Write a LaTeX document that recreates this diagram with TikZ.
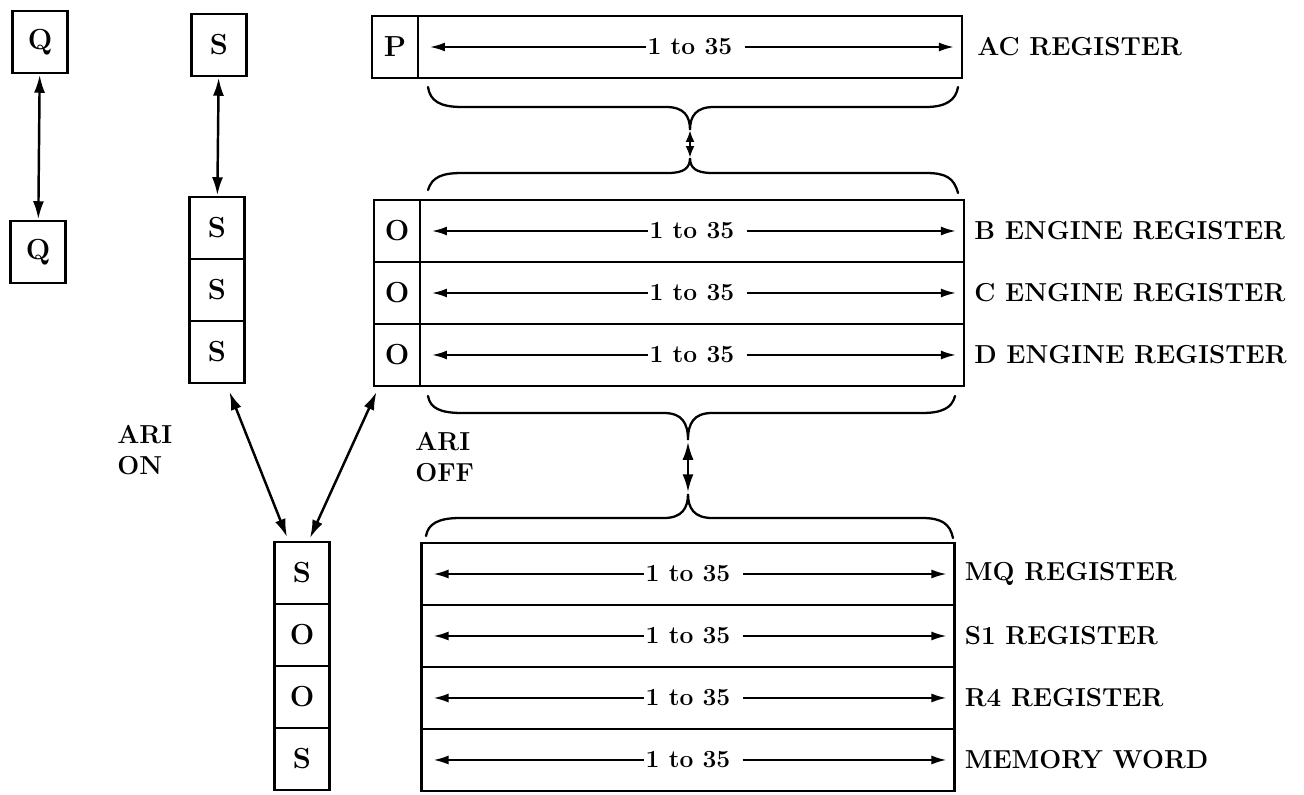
\documentclass[tikz,border=0pt]{standalone}
\usepackage{fontspec}
\usepackage{tikz}
\usetikzlibrary{arrows.meta,
positioning}

\newcommand\regfont{\fontsize{14.8}{17.6}\selectfont\bfseries}
\newcommand\bitfont{\fontsize{14}{16}\selectfont\bfseries}
\newcommand\cellfont{\fontsize{16.5}{18}\selectfont\bfseries}

\begin{document}
\begin{tikzpicture}[
    x=0.02cm, y=-0.02cm,
    >={Latex[length=3mm,width=1.8mm]},
    cell/.style={
        draw,
        line width=1.3pt,
        minimum width=1.1cm,
        minimum height=1.24cm,
        inner sep=0pt,
        outer sep=0pt,
        font=\cellfont
    },
    tag/.style={
        cell,
        minimum width=0.92cm
    },
    field/.style={
        cell,
        minimum width=10.88cm
    },
    lowfield/.style={
        cell,
        minimum width=10.66cm
    },
    span/.style={
        ->,
        line width=1.1pt
    },
    link/.style={
        <->,
        line width=1.4pt,
        >={Latex[length=3.6mm,width=2.2mm]}
    },
    brace/.style={
        line width=1.3pt,
        line cap=round
    },
    regname/.style={
        anchor=west,
        inner sep=0pt,
        font=\regfont
    },
    bits/.style={
        inner sep=0pt,
        font=\bitfont
    },
    note/.style={
        anchor=west,
        align=left,
        inner sep=0pt,
        font=\regfont
    }
]
\useasboundingbox (0,0) rectangle (1304,794);

%-------------------------------------------------
% Sign bits Q and S
%-------------------------------------------------

\node[cell] (Qtop) at (40,42) {Q};
\node[cell] (Qbot) at (38,252) {Q};
\draw[link,shorten <=1pt,shorten >=1pt] (Qtop) -- (Qbot);

\node[cell] (Stop) at (219,45) {S};
\node[cell] (Sa) at (217,228) {S};
\node[cell,below=0pt of Sa] (Sb) {S};
\node[cell,below=0pt of Sb] (Sc) {S};
\draw[link,shorten <=1pt,shorten >=1pt] (Stop) -- (Sa);

%-------------------------------------------------
% AC register
%-------------------------------------------------

\node[tag] (Pbit) at (395,47) {P};
\node[field,right=0pt of Pbit] (ACf) {};
\node[regname,right=3mm of ACf] (ACn) {AC REGISTER};

%-------------------------------------------------
% Engine registers
%-------------------------------------------------

\node[tag] (Bbit) at (397,231) {O};
\node[field,right=0pt of Bbit] (Bf) {};
\node[tag,below=0pt of Bbit] (Cbit) {O};
\node[field,right=0pt of Cbit] (Cf) {};
\node[tag,below=0pt of Cbit] (Dbit) {O};
\node[field,right=0pt of Dbit] (Df) {};

\node[regname,right=2mm of Bf] (Bn) {B ENGINE REGISTER};
\node[regname,right=2mm of Cf] (Cn) {C ENGINE REGISTER};
\node[regname,right=2mm of Df] (Dn) {D ENGINE REGISTER};

%-------------------------------------------------
% MQ, S1, R4 and memory word
%-------------------------------------------------

\node[lowfield] (MQf) at (688,574) {};
\node[lowfield,below=0pt of MQf] (S1f) {};
\node[lowfield,below=0pt of S1f] (R4f) {};
\node[lowfield,below=0pt of R4f] (MWf) {};

\node[regname,right=2mm of MQf] (MQn) {MQ REGISTER};
\node[regname,right=2mm of S1f] (S1n) {S1 REGISTER};
\node[regname,right=2mm of R4f] (R4n) {R4 REGISTER};
\node[regname,right=2mm of MWf] (MWn) {MEMORY WORD};

\node[cell] (Ta) at (302,573) {S};
\node[cell,below=0pt of Ta] (Tb) {O};
\node[cell,below=0pt of Tb] (Tc) {O};
\node[cell,below=0pt of Tc] (Td) {S};

%-------------------------------------------------
% Bits 1 to 35
%-------------------------------------------------

\foreach \f in {ACf,Bf,Cf,Df,MQf,S1f,R4f,MWf}{
    \node[bits] (\f-t) at (\f) {1 to 35};
    \draw[span] ([xshift=-1pt]\f-t.west) -- ([xshift=2.4mm]\f.west);
    \draw[span] ([xshift=2.4mm]\f-t.east) -- ([xshift=-1.6mm]\f.east);
}

%-------------------------------------------------
% Braces between register groups
%-------------------------------------------------

\coordinate (j1) at (690,130);
\coordinate (j2) at (690,158);
\coordinate (j3) at (688,440);
\coordinate (j4) at (688,494);

\draw[brace] (428,87) .. controls (430,101) and (440,107) .. (462,107)
    -- (666,107) .. controls (684,107) and (690,116) .. (j1)
    .. controls (690,116) and (696,107) .. (714,107)
    -- (926,107) .. controls (946,107) and (956,100) .. (958,87);
\draw[brace] (428,190) .. controls (432,177) and (442,173) .. (462,173)
    -- (668,173) .. controls (684,173) and (690,168) .. (j2)
    .. controls (690,168) and (696,173) .. (712,173)
    -- (926,173) .. controls (946,173) and (954,178) .. (958,193);
\draw[brace] (428,396) .. controls (430,408) and (440,413) .. (462,413)
    -- (664,413) .. controls (682,413) and (688,423) .. (j3)
    .. controls (688,423) and (694,413) .. (712,413)
    -- (922,413) .. controls (942,413) and (952,408) .. (955,396);
\draw[brace] (426,536) .. controls (428,524) and (438,518) .. (460,518)
    -- (664,518) .. controls (682,518) and (688,508) .. (j4)
    .. controls (688,508) and (694,518) .. (712,518)
    -- (922,518) .. controls (942,518) and (950,524) .. (953,538);

\draw[link,>={Latex[length=2.4mm,width=1.8mm]}] (j1) -- (j2);
\draw[link,shorten <=1pt,shorten >=1pt] (j3) -- (j4);

%-------------------------------------------------
% ARI on / off
%-------------------------------------------------

\draw[link] ([xshift=2.5mm,yshift=-1.8mm]Sc.south) -- ([xshift=-3mm,yshift=1mm]Ta.north);
\draw[link] ([xshift=0.5mm,yshift=-1.2mm]Dbit.south west) -- ([xshift=1.6mm,yshift=0.8mm]Ta.north);

\node[note] (ariOn) at (117,450) {ARI\\ON};
\node[note] (ariOff) at (415,457) {ARI\\OFF};

\end{tikzpicture}
\end{document}
